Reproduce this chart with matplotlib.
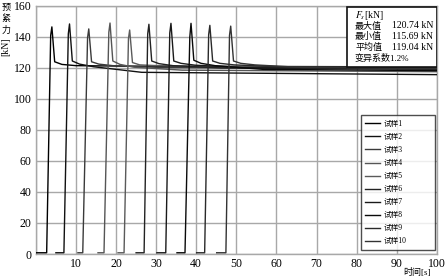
import matplotlib
matplotlib.use('Agg')
import matplotlib.pyplot as plt
from matplotlib.patches import Rectangle

plt.rcParams['font.family'] = ['Liberation Serif', 'Noto Sans CJK SC']
plt.rcParams['mathtext.fontset'] = 'stix'

# ---------------- data ----------------
samples = ['试样1', '试样2', '试样3', '试样4', '试样5',
           '试样6', '试样7', '试样8', '试样9', '试样10']
flat_start = [0.0, 5.0, 10.5, 15.5, 20.5, 25.0, 30.2, 35.2, 40.1, 45.1]
rise_start = [2.7, 7.0, 11.7, 17.0, 22.0, 27.0, 32.4, 37.2, 42.1, 47.4]
shoulder_time = [3.7, 8.1, 12.9, 18.2, 23.1, 27.9, 33.4, 38.4, 43.1, 48.3]
peak_time = [4.0, 8.4, 13.2, 18.5, 23.4, 28.2, 33.7, 38.7, 43.4, 48.6]
base_force = [0.8, 0.8, 0.8, 0.8, 0.8, 0.8, 0.8, 0.8, 0.8, 0.8]
shoulder_force = [141.0, 142.0, 139.5, 143.0, 139.0, 142.0, 142.5, 140.0, 141.5, 141.0]
peak_force = [146.5, 148.4, 145.2, 149.0, 144.5, 148.2, 148.8, 148.8, 147.5, 147.0]
drop_time = [4.7, 9.1, 13.9, 19.2, 24.1, 28.9, 34.4, 39.4, 44.1, 49.3]
drop_force = [124.0, 124.5, 124.0, 124.5, 123.5, 124.5, 124.5, 125.0, 124.5, 124.5]
settle_time = [6.5, 10.9, 15.7, 21.0, 25.9, 30.7, 36.2, 41.2, 45.9, 51.1]
settle_force = [122.3, 122.5, 122.5, 122.3, 122.0, 122.8, 123.0, 123.0, 123.0, 123.0]
mid_time = [10.0, 14.4, 19.2, 24.5, 29.4, 34.2, 39.7, 44.7, 49.4, 54.6]
mid_force = [121.5, 120.8, 121.5, 120.5, 121.6, 121.5, 121.8, 121.5, 122.0, 122.0]
late_time = [22.0, 26.4, 31.2, 36.5, 41.4, 46.2, 51.7, 56.7, 61.4, 66.6]
late_force = [121.2, 117.2, 120.3, 118.6, 120.9, 120.0, 120.2, 119.1, 120.7, 120.3]
end_time = [100.0] * 10
end_force = [120.7, 115.7, 119.5, 117.6, 120.2, 119.2, 119.5, 118.3, 120.0, 119.6]

line_colors = ['#000000', '#111111', '#3a3a3a', '#555555', '#5a5a5a',
               '#222222', '#1a1a1a', '#0a0a0a', '#2a2a2a', '#333333']

x_ticks = [0, 10, 20, 30, 40, 50, 60, 70, 80, 90, 100]
y_ticks = [0, 20, 40, 60, 80, 100, 120, 140, 160]

stats_names = ['最大值', '最小值', '平均值']
stats_values = ['120.74 kN', '115.69 kN', '119.04 kN']
cv_text = '变异系数1.2%'

# ---------------- figure ----------------
fig = plt.figure(figsize=(4.48, 2.79), dpi=100)
ax = fig.add_axes([0.080, 0.0896, 0.895, 0.889])

for i in range(len(samples)):
    t = [flat_start[i], rise_start[i], shoulder_time[i], peak_time[i],
         drop_time[i], settle_time[i], mid_time[i], late_time[i], end_time[i]]
    f = [base_force[i], base_force[i], shoulder_force[i], peak_force[i],
         drop_force[i], settle_force[i], mid_force[i], late_force[i], end_force[i]]
    ax.plot(t, f, color=line_colors[i], lw=1.0, label=samples[i], zorder=3)

ax.set_xlim(0, 100)
ax.set_ylim(0, 160)
ax.set_xticks(x_ticks)
ax.set_yticks(y_ticks)
ax.set_xticklabels([''] + [str(v) for v in x_ticks[1:]])
ax.set_yticklabels([str(v) for v in y_ticks])
ax.tick_params(length=0, labelsize=8.5, pad=3)
ax.grid(True, color='#a8a8a8', lw=1.0, zorder=0)
for s in ax.spines.values():
    s.set_color('#a8a8a8')
    s.set_linewidth(1.0)

# y label: stacked Chinese characters + rotated unit
for k, ch in enumerate(['预', '紧', '力']):
    fig.text(6 / 448, 1 - (8 + 11 * k) / 279, ch, fontsize=6.5,
             ha='center', va='center')
fig.text(6 / 448, 1 - 47 / 279, '[kN]', fontsize=7, rotation=90,
         ha='center', va='center')

# x label
fig.text(417 / 448, 1 - 272 / 279, '时间[s]', fontsize=6.5,
         ha='center', va='center')

# stats box
box = Rectangle((0.776, 0.754), 0.224, 0.242, transform=ax.transAxes,
                facecolor='white', edgecolor='#111111', lw=1.2, zorder=5)
ax.add_patch(box)
fig.text(355 / 448, 1 - 15 / 279, '$F_s$[kN]', fontsize=7, ha='left',
         va='center', zorder=6)
for k in range(3):
    y = 1 - (26 + 10.7 * k) / 279
    fig.text(355 / 448, y, stats_names[k], fontsize=6.5, ha='left',
             va='center', zorder=6)
    fig.text(392 / 448, y, stats_values[k], fontsize=7, ha='left',
             va='center', zorder=6)
fig.text(355 / 448, 1 - 58 / 279, cv_text, fontsize=6.5, ha='left',
         va='center', zorder=6)

# legend
leg = ax.legend(loc='lower left', bbox_to_anchor=(0.81, 0.016, 0.185, 0.516),
                mode='expand', fontsize=5.5, frameon=True, fancybox=False,
                handlelength=2.0, handletextpad=0.4, labelspacing=0.66,
                borderpad=0.6, borderaxespad=0)
leg.get_frame().set_edgecolor('#222222')
leg.get_frame().set_linewidth(1.0)
leg.set_zorder(6)

fig.savefig('out.png', dpi=100)
